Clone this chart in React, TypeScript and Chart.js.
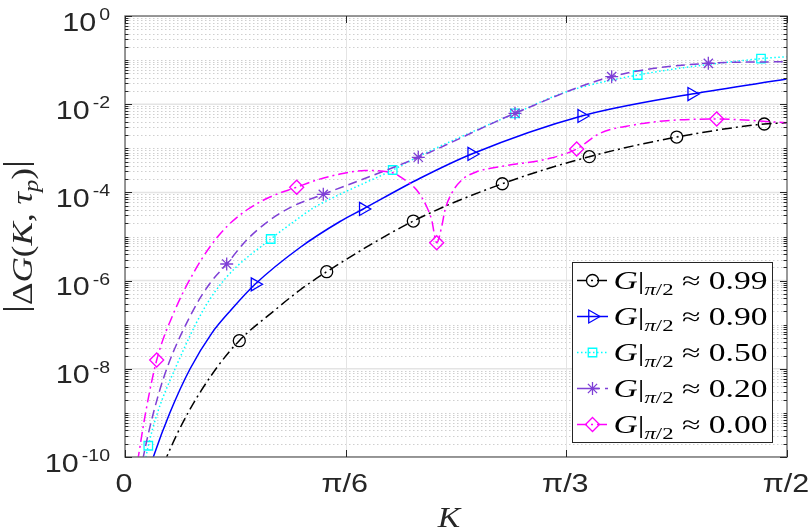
import React, { useEffect, useRef } from 'react';
import { Chart, registerables } from 'chart.js';

Chart.register(...registerables);

const PI = Math.PI;

// ---- axis ticks ----
const X_TICKS = [0, PI / 6, PI / 3, PI / 2];
const X_TICK_LABELS = ['0', 'π/6', 'π/3', 'π/2'];
const Y_TICK_EXPS = [0, -2, -4, -6, -8, -10];
const Y_MIN = 1e-10;
const Y_MAX = 1;

// ---- series labels (value of G at K = π/2) ----
const SERIES_LABELS = ['0.99', '0.90', '0.50', '0.20', '0.00'];

// ---- G|π/2 ≈ 0.99 ----
const K99 = [0.0593, 0.0989, 0.1495, 0.2159, 0.2712, 0.3559, 0.4152, 0.4786, 0.6841, 0.8953, 1.1017, 1.3091, 1.5169, 1.5708];
const G99 = [1e-11, 1e-10, 1e-9, 1e-8, 4.34e-8, 2.15e-7, 6.12e-7, 1.59e-6, 2.24e-5, 1.57e-4, 6.46e-4, 1.8e-3, 3.56e-3, 3.8e-3];
const M99 = [4, 7, 8, 9, 10, 11, 12];

// ---- G|π/2 ≈ 0.90 ----
const K90 = [0.0344, 0.0672, 0.106, 0.1542, 0.2057, 0.2515, 0.3085, 0.4153, 0.5102, 0.5654, 0.7, 0.8227, 1.0837, 1.3447, 1.5708];
const G90 = [1e-11, 1e-10, 9.79e-10, 9.89e-9, 6.38e-8, 2.15e-7, 8.24e-7, 5.63e-6, 2.19e-5, 4.21e-5, 2.09e-4, 7.43e-4, 5.4e-3, 1.7e-2, 3.72e-2];
const M90 = [6, 9, 11, 12, 13];

// ---- G|π/2 ≈ 0.50 ----
const K50 = [0.0356, 0.0498, 0.0553, 0.0766, 0.1186, 0.1858, 0.2413, 0.3457, 0.3994, 0.4468, 0.4943, 0.6352, 0.7, 0.9254, 1.0481, 1.2165, 1.5091, 1.5708];
const G50 = [1e-11, 1e-10, 1.8e-10, 9.79e-10, 9.89e-9, 2.15e-7, 1.21e-6, 8.77e-6, 2.13e-5, 4.43e-5, 7.66e-5, 3.22e-4, 6.79e-4, 6.22e-3, 1.92e-2, 4.59e-2, 0.108, 0.119];
const M50 = [2, 7, 11, 13, 15, 16];

// ---- G|π/2 ≈ 0.20 ----
const K20 = [0.0244, 0.0434, 0.0672, 0.0989, 0.1621, 0.2017, 0.2413, 0.2888, 0.3441, 0.3994, 0.4705, 0.6959, 0.9254, 1.1548, 1.3841, 1.5708];
const G20 = [1e-11, 1e-10, 9.79e-10, 9.89e-9, 2.15e-7, 8.69e-7, 2.38e-6, 8.34e-6, 2.37e-5, 4.92e-5, 9.06e-5, 6.25e-4, 6.22e-3, 4.21e-2, 8.45e-2, 9.2e-2];
const M20 = [6, 10, 11, 12, 13, 14];

// ---- G|π/2 ≈ 0.00 ----
const K00 = [0.0142, 0.0316, 0.0486, 0.0752, 0.1186, 0.1621, 0.2017, 0.2413, 0.2888, 0.3441, 0.4074, 0.4549, 0.5102, 0.5695, 0.6335, 0.6525, 0.6921, 0.7159, 0.7277, 0.7396, 0.7515, 0.7593, 0.7752, 0.7989, 0.8345, 0.8898, 1.0085, 1.0718, 1.1271, 1.2061, 1.2854, 1.404, 1.5708];
const G00 = [1e-11, 1e-10, 9.79e-10, 1.58e-8, 2.15e-7, 1.47e-6, 5.87e-6, 1.67e-5, 3.99e-5, 7.87e-5, 1.31e-4, 1.91e-4, 2.61e-4, 3.14e-4, 2.83e-4, 2.27e-4, 1.13e-4, 4.74e-5, 2.37e-5, 7.23e-6, 1.67e-5, 3.99e-5, 9.55e-5, 1.91e-4, 2.94e-4, 3.83e-4, 5.93e-4, 9.64e-4, 2.19e-3, 3.37e-3, 4.23e-3, 4.61e-3, 3.8e-3];
const M00 = [3, 10, 19, 27, 31];

const SERIES_K = [K99, K90, K50, K20, K00];
const SERIES_G = [G99, G90, G50, G20, G00];
const SERIES_M = [M99, M90, M50, M20, M00];

// ---- styles ----
type MStyle = 'circle' | 'triangle' | 'rect' | 'star' | 'rectRot';
const STYLES: { color: string; dash: number[]; marker: MStyle; r: number; rot: number }[] = [
  { color: '#000000', dash: [10, 4, 2, 4], marker: 'circle', r: 6, rot: 0 },
  { color: '#0000ff', dash: [], marker: 'triangle', r: 7.5, rot: 90 },
  { color: '#00ffff', dash: [1.5, 2.5], marker: 'rect', r: 6, rot: 0 },
  { color: '#7e3fd6', dash: [9, 5], marker: 'star', r: 6.5, rot: 0 },
  { color: '#ff00ff', dash: [10, 4, 2, 4], marker: 'rectRot', r: 7, rot: 0 },
];

const INK = '#262626';
const SANS = '"Liberation Sans", Arial, sans-serif';
const SERIF = '"Liberation Serif", "Times New Roman", serif';
const SX = 1.22; // horizontal text stretch of the reference

type Seg = { t: string; font: string; dy?: number };

function segWidth(ctx: CanvasRenderingContext2D, segs: Seg[]) {
  let w = 0;
  for (const s of segs) {
    ctx.font = s.font;
    w += ctx.measureText(s.t).width;
  }
  return w;
}

function drawSegs(ctx: CanvasRenderingContext2D, segs: Seg[], x: number, y: number, scale: number) {
  ctx.save();
  ctx.translate(x, y);
  ctx.scale(scale, 1);
  ctx.textAlign = 'left';
  ctx.textBaseline = 'alphabetic';
  let cx = 0;
  for (const s of segs) {
    ctx.font = s.font;
    ctx.fillText(s.t, cx, s.dy || 0);
    cx += ctx.measureText(s.t).width;
  }
  ctx.restore();
}

function drawText(ctx: CanvasRenderingContext2D, text: string, font: string, x: number, y: number, align: 'left' | 'center' | 'right', sx: number) {
  ctx.save();
  ctx.font = font;
  const w = ctx.measureText(text).width * sx;
  const x0 = align === 'center' ? x - w / 2 : align === 'right' ? x - w : x;
  ctx.translate(x0, y);
  ctx.scale(sx, 1);
  ctx.textAlign = 'left';
  ctx.textBaseline = 'alphabetic';
  ctx.fillText(text, 0, 0);
  ctx.restore();
  return w;
}

function drawMarker(ctx: CanvasRenderingContext2D, m: MStyle, x: number, y: number, r: number, rot: number) {
  ctx.beginPath();
  if (m === 'circle') {
    ctx.arc(x, y, r, 0, 2 * PI);
  } else if (m === 'triangle') {
    let a = (rot * PI) / 180;
    ctx.moveTo(x + Math.sin(a) * r, y - Math.cos(a) * r);
    a += (2 * PI) / 3;
    ctx.lineTo(x + Math.sin(a) * r, y - Math.cos(a) * r);
    a += (2 * PI) / 3;
    ctx.lineTo(x + Math.sin(a) * r, y - Math.cos(a) * r);
    ctx.closePath();
  } else if (m === 'rect') {
    const s = r * Math.SQRT1_2;
    ctx.rect(x - s, y - s, 2 * s, 2 * s);
  } else if (m === 'rectRot') {
    ctx.moveTo(x - r, y);
    ctx.lineTo(x, y - r);
    ctx.lineTo(x + r, y);
    ctx.lineTo(x, y + r);
    ctx.closePath();
  } else {
    const d = r * Math.SQRT1_2;
    ctx.moveTo(x - r, y); ctx.lineTo(x + r, y);
    ctx.moveTo(x, y - r); ctx.lineTo(x, y + r);
    ctx.moveTo(x - d, y - d); ctx.lineTo(x + d, y + d);
    ctx.moveTo(x - d, y + d); ctx.lineTo(x + d, y - d);
  }
  ctx.stroke();
}

const isMajorExp = (e: number) => Y_TICK_EXPS.includes(e);

const framePlugin = {
  id: 'matlabFrame',
  beforeDatasetsDraw(chart: any) {
    const { ctx, chartArea: a, scales } = chart;
    const ys = scales.y;
    const xs = scales.x;
    ctx.save();
    ctx.beginPath();
    ctx.rect(a.left, a.top, a.right - a.left, a.bottom - a.top);
    ctx.clip();
    // minor horizontal grid (dotted)
    ctx.setLineDash([1.5, 2.5]);
    ctx.strokeStyle = '#cfcfcf';
    ctx.lineWidth = 1;
    for (let e = -10; e < 0; e++) {
      for (let m = 1; m <= 9; m++) {
        if (m === 1 && isMajorExp(e)) continue;
        const py = Math.round(ys.getPixelForValue(m * Math.pow(10, e))) + 0.5;
        ctx.beginPath();
        ctx.moveTo(a.left, py);
        ctx.lineTo(a.right, py);
        ctx.stroke();
      }
    }
    // major grid
    ctx.setLineDash([]);
    ctx.strokeStyle = '#e4e4e4';
    ctx.lineWidth = 1.5;
    for (const e of Y_TICK_EXPS) {
      const py = ys.getPixelForValue(Math.pow(10, e));
      ctx.beginPath();
      ctx.moveTo(a.left, py);
      ctx.lineTo(a.right, py);
      ctx.stroke();
    }
    ctx.lineWidth = 1;
    for (const t of X_TICKS) {
      const px = Math.round(xs.getPixelForValue(t)) + 0.5;
      ctx.beginPath();
      ctx.moveTo(px, a.top);
      ctx.lineTo(px, a.bottom);
      ctx.stroke();
    }
    ctx.restore();
  },
  afterDatasetsDraw(chart: any) {
    const { ctx, chartArea: a, scales } = chart;
    const ys = scales.y;
    const xs = scales.x;
    ctx.save();
    // box
    ctx.strokeStyle = '#6e6e6e';
    ctx.lineWidth = 1.4;
    ctx.strokeRect(a.left, a.top, a.right - a.left, a.bottom - a.top);
    // ticks
    ctx.strokeStyle = INK;
    ctx.lineWidth = 1;
    for (let e = -10; e <= 0; e++) {
      for (let m = 1; m <= 9; m++) {
        const v = m * Math.pow(10, e);
        if (v > Y_MAX * 1.0001) continue;
        const py = Math.round(ys.getPixelForValue(v)) + 0.5;
        const len = m === 1 && isMajorExp(e) ? 7 : 3.5;
        ctx.beginPath();
        ctx.moveTo(a.left, py); ctx.lineTo(a.left + len, py);
        ctx.moveTo(a.right, py); ctx.lineTo(a.right - len, py);
        ctx.stroke();
      }
    }
    for (const t of X_TICKS) {
      const px = Math.round(xs.getPixelForValue(t)) + 0.5;
      ctx.beginPath();
      ctx.moveTo(px, a.bottom); ctx.lineTo(px, a.bottom - 7);
      ctx.moveTo(px, a.top); ctx.lineTo(px, a.top + 7);
      ctx.stroke();
    }
    // x tick labels
    ctx.fillStyle = INK;
    X_TICKS.forEach((t, i) => {
      const px = xs.getPixelForValue(t);
      drawText(ctx, X_TICK_LABELS[i], `25px ${SANS}`, px - 1, a.bottom + 35, 'center', SX);
    });
    // y tick labels: 10^e
    for (const e of Y_TICK_EXPS) {
      const py = ys.getPixelForValue(Math.pow(10, e));
      const ew = drawText(ctx, String(e), `16px ${SANS}`, a.left - 15, py + 4, 'right', SX);
      drawText(ctx, '10', `25px ${SANS}`, a.left - 15 - ew - 3, py + 14.5, 'right', SX);
    }
    // x axis title
    drawText(ctx, 'K', `italic 30px ${SERIF}`, 449, 527, 'center', 1.12);
    // y axis title (rotated)
    {
      const big = `34px ${SERIF}`;
      const rm = `30px ${SERIF}`;
      const it = `italic 30px ${SERIF}`;
      const sub = `italic 21px ${SERIF}`;
      const segs: Seg[] = [
        { t: '|', font: big, dy: -5 },
        { t: 'Δ', font: rm },
        { t: 'G', font: it },
        { t: '(', font: rm },
        { t: 'K', font: it },
        { t: ', ', font: rm },
        { t: 'τ', font: it },
        { t: 'p', font: sub, dy: 6 },
        { t: ')', font: rm },
        { t: '|', font: big, dy: -5 },
      ];
      const w = segWidth(ctx, segs);
      const target = 153;
      const s = target / w;
      ctx.save();
      ctx.translate(31.5, 236.5);
      ctx.rotate(-PI / 2);
      ctx.fillStyle = INK;
      drawSegs(ctx, segs, -target / 2, 0, s);
      ctx.restore();
    }
    // legend
    {
      const L = { x1: 572.5, y1: 262.5, x2: 772.5, y2: 442.5 };
      ctx.fillStyle = '#ffffff';
      ctx.fillRect(L.x1, L.y1, L.x2 - L.x1, L.y2 - L.y1);
      ctx.strokeStyle = INK;
      ctx.lineWidth = 1;
      ctx.strokeRect(L.x1, L.y1, L.x2 - L.x1, L.y2 - L.y1);
      const rowH = (L.y2 - L.y1) / SERIES_LABELS.length;
      SERIES_LABELS.forEach((lab, i) => {
        const st = STYLES[i];
        const cy = L.y1 + rowH * (i + 0.5);
        ctx.save();
        ctx.strokeStyle = st.color;
        ctx.lineWidth = 1.5;
        ctx.setLineDash(st.dash);
        ctx.beginPath();
        ctx.moveTo(L.x1 + 4.5, cy);
        ctx.lineTo(L.x1 + 35.5, cy);
        ctx.stroke();
        ctx.setLineDash([]);
        ctx.lineWidth = 1.3;
        drawMarker(ctx, st.marker, L.x1 + 20, cy, st.r, st.rot);
        ctx.restore();
        const segs: Seg[] = [
          { t: 'G', font: `italic 25px ${SERIF}` },
          { t: '|', font: `25px ${SERIF}` },
          { t: 'π', font: `italic 17px ${SERIF}`, dy: 6 },
          { t: '/2', font: `17px ${SERIF}`, dy: 6 },
          { t: ' ≈ ', font: `25px ${SERIF}` },
          { t: lab, font: `25px ${SERIF}` },
        ];
        const w = segWidth(ctx, segs);
        const target = 154;
        ctx.fillStyle = '#000000';
        drawSegs(ctx, segs, L.x1 + 41, cy + 8, target / w);
      });
    }
    ctx.restore();
  },
};

export default function App() {
  const ref = useRef<HTMLCanvasElement | null>(null);
  useEffect(() => {
    if (!ref.current) return;
    const datasets = SERIES_K.map((ks, si) => {
      const st = STYLES[si];
      const marks = SERIES_M[si];
      return {
        label: `G|π/2 ≈ ${SERIES_LABELS[si]}`,
        data: ks.map((k, i) => ({ x: k, y: SERIES_G[si][i] })),
        borderColor: st.color,
        backgroundColor: 'rgba(0,0,0,0)',
        borderWidth: 1.5,
        borderDash: st.dash,
        cubicInterpolationMode: 'monotone' as const,
        fill: false,
        pointStyle: st.marker,
        pointRotation: st.rot,
        pointRadius: ks.map((_, i) => (marks.includes(i) ? st.r : 0)),
        pointHoverRadius: 0,
        pointBorderColor: st.color,
        pointBackgroundColor: 'rgba(0,0,0,0)',
        pointBorderWidth: 1.3,
        order: SERIES_K.length - si,
      };
    });
    const chart = new Chart(ref.current, {
      type: 'line',
      data: { datasets },
      options: {
        animation: false,
        responsive: true,
        maintainAspectRatio: false,
        events: [],
        layout: { padding: { left: 125, right: 23, top: 16, bottom: 73 } },
        plugins: { legend: { display: false }, tooltip: { enabled: false } },
        scales: {
          x: { type: 'linear', min: X_TICKS[0], max: X_TICKS[X_TICKS.length - 1], display: false },
          y: { type: 'logarithmic', min: Y_MIN, max: Y_MAX, display: false },
        },
      },
      plugins: [framePlugin],
    } as any);
    return () => chart.destroy();
  }, []);
  return (
    <div style={{ position: 'fixed', left: 0, top: 0, width: 810, height: 530, background: '#ffffff' }}>
      <canvas ref={ref} />
    </div>
  );
}
